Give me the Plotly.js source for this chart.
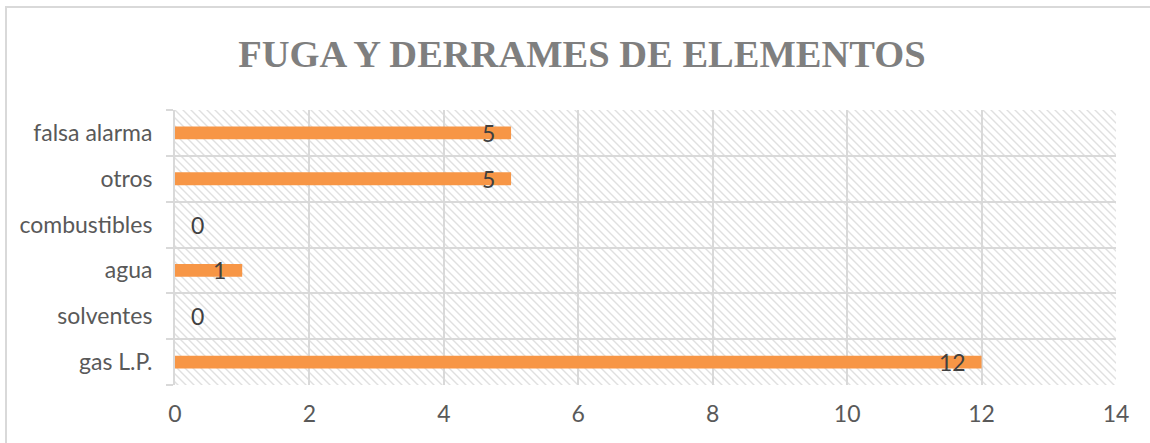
<!DOCTYPE html>
<html>
<head>
<meta charset="utf-8">
<script src="https://cdn.plot.ly/plotly-3.0.1.min.js"></script>
<style>
html,body{margin:0;padding:0;background:#fff;}
#chart{width:1150px;height:443px;}
</style>
</head>
<body>
<div id="chart"></div>
<script>
// Data (bottom to top)
const categories = ["gas L.P.", "solventes", "agua", "combustibles", "otros", "falsa alarma"];
const values = [12, 0, 1, 0, 5, 5];
const xTickValues = [0, 2, 4, 6, 8, 10, 12, 14];
const chartTitle = "FUGA Y DERRAMES DE ELEMENTOS";

const gridColor = "#d9d9d9";
const labelFont = {family: "Lato, 'Open Sans', sans-serif", size: 23, color: "#595959"};

// Hatched background for plot area (decoration)
const hatchSvg =
  '<svg xmlns="http://www.w3.org/2000/svg" width="941" height="275">' +
  '<defs><pattern id="h" patternUnits="userSpaceOnUse" width="8" height="8">' +
  '<path d="M-2,-2 L10,10 M-2,6 L2,10 M6,-2 L10,2" stroke="#e0e0e0" stroke-width="1.4"/>' +
  '</pattern></defs><rect width="941" height="275" fill="url(#h)"/></svg>';
const hatchUri = "data:image/svg+xml;base64," + btoa(hatchSvg);

const trace = {
  type: "bar",
  orientation: "h",
  y: categories,
  x: values,
  width: 0.28,
  marker: {color: "#F79646"},
  hoverinfo: "x+y",
  showlegend: false
};

const annotations = categories.map((c, i) => {
  const v = values[i];
  return {
    x: v, y: c, xref: "x", yref: "y",
    text: String(v),
    showarrow: false,
    xanchor: v > 0 ? "right" : "left",
    xshift: v > 0 ? -14 : 14,
    yanchor: "middle",
    font: {family: "Lato, 'Open Sans', sans-serif", size: 23, color: "#404040"}
  };
});

const layout = {
  width: 1150, height: 443,
  margin: {l: 175, r: 34, t: 110, b: 58},
  paper_bgcolor: "#ffffff",
  plot_bgcolor: "rgba(0,0,0,0)",
  title: {
    text: "<b>" + chartTitle + "</b>",
    font: {family: "'Liberation Serif', 'DejaVu Serif', serif", size: 38.5, color: "#7f7f7f"},
    x: 0.506, xref: "container", xanchor: "center",
    y: 0.88, yref: "container", yanchor: "middle"
  },
  xaxis: {
    range: [0, 14],
    tickvals: xTickValues,
    ticktext: xTickValues.map(String),
    showgrid: true, gridcolor: gridColor, gridwidth: 2,
    zeroline: false, showline: false,
    ticks: "", ticklabelstandoff: 13,
    tickfont: labelFont,
    fixedrange: true
  },
  yaxis: {
    type: "category",
    categoryorder: "array", categoryarray: categories,
    tickson: "boundaries",
    ticks: "outside", ticklen: 7, tickcolor: gridColor, tickwidth: 2,
    showgrid: true, gridcolor: gridColor, gridwidth: 2,
    showline: true, linecolor: gridColor, linewidth: 2,
    zeroline: false,
    ticklabelstandoff: 16,
    tickfont: labelFont,
    fixedrange: true
  },
  bargap: 0.72,
  images: [{
    source: hatchUri,
    xref: "paper", yref: "paper",
    x: 0, y: 1, sizex: 1, sizey: 1,
    xanchor: "left", yanchor: "top",
    sizing: "stretch", layer: "below"
  }],
  shapes: [{
    type: "rect", xref: "paper", yref: "paper",
    x0: -0.1796, x1: 1.05, y0: -0.25, y1: 1.3745,
    line: {color: gridColor, width: 2}, fillcolor: "rgba(0,0,0,0)",
    layer: "below"
  }],
  annotations: annotations
};

Plotly.newPlot("chart", [trace], layout, {displayModeBar: false, staticPlot: true});
</script>
</body>
</html>
